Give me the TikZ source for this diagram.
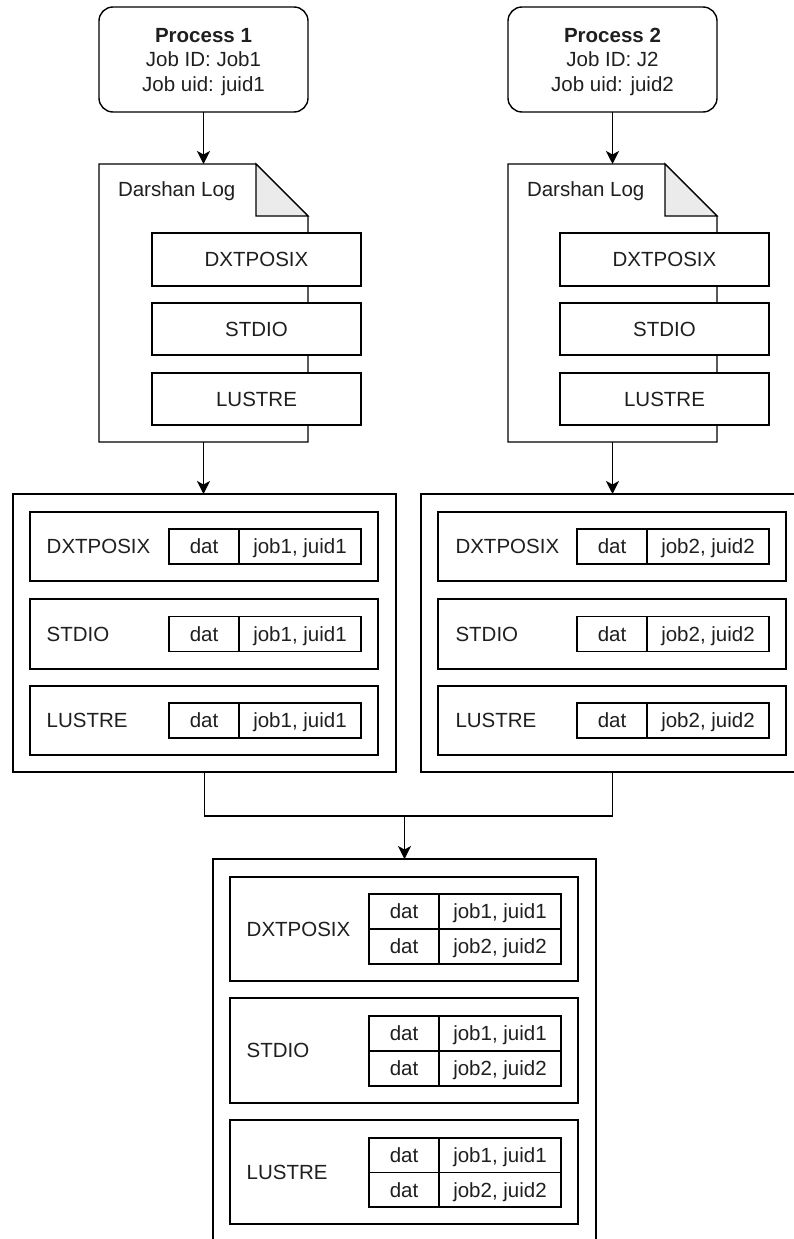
\documentclass[tikz,border=0pt]{standalone}
\usepackage{fontspec}
\setmainfont{Liberation Sans}
\usetikzlibrary{arrows.meta}
\definecolor{txt}{HTML}{1F1F1F}
\definecolor{foldc}{HTML}{EBEBEB}
\newcommand\cell[7][]{%
  \pgfmathsetmacro\cellw{#5-#3}\pgfmathsetmacro\cellh{#6-#4}%
  \node[cellbox,#1,minimum width=\cellw pt,minimum height=\cellh pt] (#2) at ({(#3+#5)/2},{(#4+#6)/2}) {#7};}
\newcommand\docshape[5]{%
  \pgfmathsetmacro\cellw{#4-#2}\pgfmathsetmacro\cellh{#5-#3}%
  \node[minimum width=\cellw pt,minimum height=\cellh pt] (#1) at ({(#2+#4)/2},{(#3+#5)/2}) {};
  \draw[fill=white] (#2,#3) -- ({#4-52},#3) -- (#4,{#3+52}) -- (#4,#5) -- (#2,#5) -- cycle;
  \filldraw[fill=foldc] ({#4-52},#3) -- ({#4-52},{#3+52}) -- (#4,{#3+52}) -- cycle;}
\begin{document}
\begin{tikzpicture}[x=1pt,y=-1pt,line width=1.4pt,
  every node/.style={font=\fontsize{20.5}{24.5}\selectfont,text=txt,inner sep=0pt,outer sep=0pt},
  cellbox/.style={draw,fill=white,text height=14.7pt,text depth=0pt},
  lbl/.style={text height=14.7pt,text depth=0pt,anchor=west},
  proc/.style={draw,rounded corners=14pt,minimum width=209pt,minimum height=105pt,align=center,text depth=0pt},
  arr/.style={-{Stealth[length=13pt,width=13pt,inset=3.5pt]}}]
\useasboundingbox (0,0) rectangle (793,1239);

% processes
\node[proc] (p1) at (203.5,59.5) {\textbf{Process 1}\\Job ID: Job1\\Job uid: juid1};
\node[proc] (p2) at (612.5,59.5) {\textbf{Process 2}\\Job ID: J2\\Job uid: juid2};

% darshan logs
\docshape{d1}{99}{164}{308}{442}
\node[anchor=base west] (d1t) at (118,196.5) {Darshan Log};
\cell{d1a}{152}{233}{361}{286}{DXTPOSIX}
\cell{d1b}{152}{303}{361}{355}{STDIO}
\cell{d1c}{152}{373}{361}{425}{LUSTRE}

\docshape{d2}{508}{164}{717}{442}
\node[anchor=base west] (d2t) at (527,196.5) {Darshan Log};
\cell{d2a}{560}{233}{769}{286}{DXTPOSIX}
\cell{d2b}{560}{303}{769}{355}{STDIO}
\cell{d2c}{560}{373}{769}{425}{LUSTRE}

% middle left
\cell{m1}{13}{494}{396}{772}{}
\cell{m1a}{30}{512}{378}{581}{}
\cell{m1b}{30}{599}{378}{669}{}
\cell{m1c}{30}{686}{378}{755}{}
\node[lbl] (m1al) at (46.7,546.5) {DXTPOSIX};
\node[lbl] (m1bl) at (46.7,634) {STDIO};
\node[lbl] (m1cl) at (46.7,720.5) {LUSTRE};
\cell{m1ad}{169}{529}{239}{564}{dat}
\cell{m1aj}{239}{529}{361}{564}{job1, juid1}
\cell{m1bd}{169}{616.5}{239}{651.5}{dat}
\cell{m1bj}{239}{616.5}{361}{651.5}{job1, juid1}
\cell{m1cd}{169}{703}{239}{738}{dat}
\cell{m1cj}{239}{703}{361}{738}{job1, juid1}

% middle right
\cell{m2}{421}{494}{804}{772}{}
\cell{m2a}{438}{512}{786}{581}{}
\cell{m2b}{438}{599}{786}{669}{}
\cell{m2c}{438}{686}{786}{755}{}
\node[lbl] (m2al) at (455.5,546.5) {DXTPOSIX};
\node[lbl] (m2bl) at (455.5,634) {STDIO};
\node[lbl] (m2cl) at (455.5,720.5) {LUSTRE};
\cell{m2ad}{577}{529}{647}{564}{dat}
\cell{m2aj}{647}{529}{769}{564}{job2, juid2}
\cell{m2bd}{577}{616.5}{647}{651.5}{dat}
\cell{m2bj}{647}{616.5}{769}{651.5}{job2, juid2}
\cell{m2cd}{577}{703}{647}{738}{dat}
\cell{m2cj}{647}{703}{769}{738}{job2, juid2}

% bottom
\cell{b3}{213}{859}{596}{1262}{}
\cell{b3a}{230}{877}{578}{981}{}
\cell{b3b}{230}{998}{578}{1103}{}
\cell{b3c}{230}{1120}{578}{1224}{}
\node[lbl] (b3al) at (246.7,929) {DXTPOSIX};
\node[lbl] (b3bl) at (246.7,1050.5) {STDIO};
\node[lbl] (b3cl) at (246.7,1172) {LUSTRE};
\cell{b3a1d}{369}{894}{439}{929}{dat}
\cell{b3a1j}{439}{894}{561}{929}{job1, juid1}
\cell{b3a2d}{369}{929}{439}{964}{dat}
\cell{b3a2j}{439}{929}{561}{964}{job2, juid2}
\cell{b3b1d}{369}{1016}{439}{1051}{dat}
\cell{b3b1j}{439}{1016}{561}{1051}{job1, juid1}
\cell{b3b2d}{369}{1051}{439}{1086}{dat}
\cell{b3b2j}{439}{1051}{561}{1086}{job2, juid2}
\cell{b3c1d}{369}{1138}{439}{1172.5}{dat}
\cell{b3c1j}{439}{1138}{561}{1172.5}{job1, juid1}
\cell{b3c2d}{369}{1172.5}{439}{1207}{dat}
\cell{b3c2j}{439}{1172.5}{561}{1207}{job2, juid2}

% connectors
\draw[arr] (p1.south) -- (d1.north);
\draw[arr] (p2.south) -- (d2.north);
\draw[arr] (d1.south) -- (d1.south |- m1.north);
\draw[arr] (d2.south) -- (d2.south |- m2.north);
\coordinate (j) at (404.5,816);
\draw (m1.south) |- (j);
\draw (m2.south) |- (j);
\draw[arr] (j) -- (b3.north);
\end{tikzpicture}
\end{document}
